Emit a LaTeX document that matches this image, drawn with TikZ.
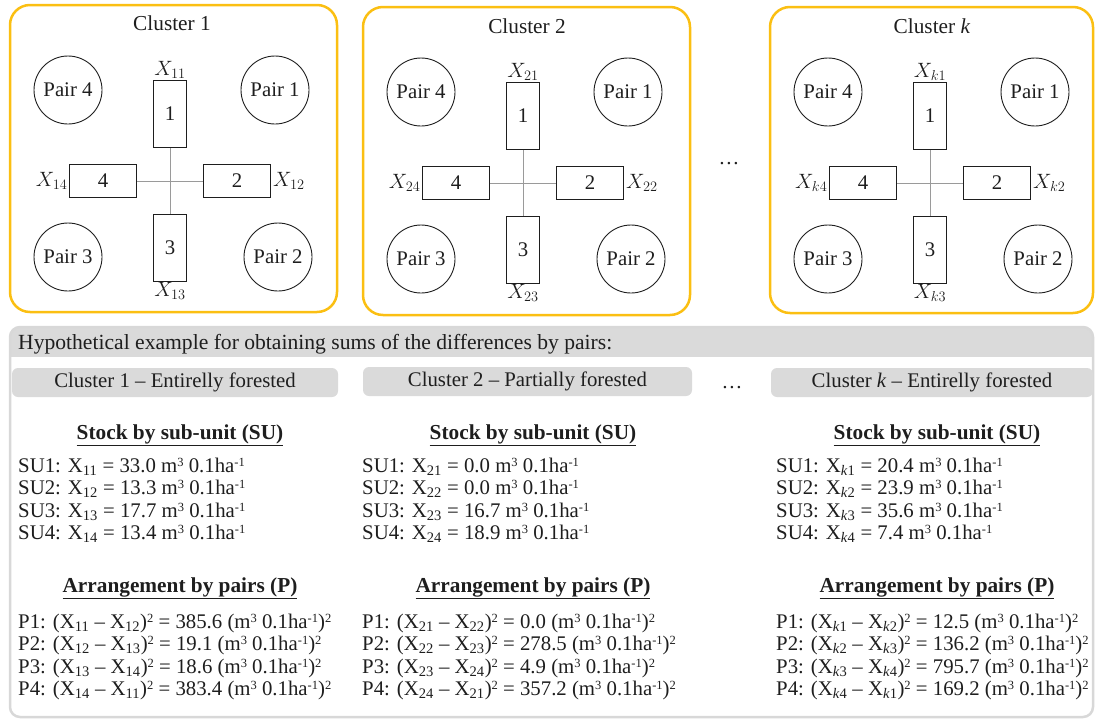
\documentclass[tikz,border=0pt]{standalone}
\usepackage{fontspec}
\setmainfont{Liberation Serif}
\definecolor{gold}{HTML}{FBBF12}
\definecolor{bargray}{HTML}{DADADA}
\definecolor{framegray}{HTML}{D8D8D8}
\definecolor{linegray}{HTML}{9A9A9A}
\definecolor{inkc}{HTML}{1E1E1E}
\newcommand\mysup[1]{\raisebox{5.8pt}{\fontsize{12.5pt}{12.5pt}\selectfont #1}}
\newcommand\myunit{m\mysup{3} 0.1ha\mysup{-1}}
\newcommand\myX[1]{X\textsubscript{#1}}
\newcommand\mykX[1]{X\textsubscript{\textit{k}#1}}
\tikzset{
  clusterframe/.style={draw=gold, line width=2.5pt, rounded corners=20pt},
  vbox/.style={draw=inkc, line width=0.9pt, minimum width=33pt, minimum height=67pt, inner sep=0pt},
  hbox/.style={draw=inkc, line width=0.9pt, minimum width=67pt, minimum height=33pt, inner sep=0pt},
  paircircle/.style={draw=inkc, line width=0.9pt, circle, minimum size=68pt, inner sep=0pt},
  crossline/.style={draw=linegray, line width=0.9pt},
  subbar/.style={fill=bargray, rounded corners=6pt, minimum height=29pt, inner sep=0pt},
  txt/.style={anchor=base west, inner sep=0pt},
  head/.style={anchor=base, inner sep=0pt, font=\fontsize{21.3pt}{22.5pt}\selectfont\bfseries},
  xlab/.style={font=\fontsize{21pt}{22pt}\selectfont},
}
% #1 prefix, #2 sub1, #3 sub2, #4 sub3, #5 sub4
\newcommand\mycross[5]{%
  \node[vbox] (#1u1) at (0,-67) {1};
  \node[hbox] (#1u2) at (67,0) {2};
  \node[vbox] (#1u3) at (0,67) {3};
  \node[hbox] (#1u4) at (-67,0) {4};
  \draw[crossline] (#1u1.south) -- (#1u3.north);
  \draw[crossline] (#1u4.east) -- (#1u2.west);
  \node[xlab, anchor=south, inner sep=1pt] (#1l1) at (#1u1.north) {#2};
  \node[xlab, anchor=west, inner sep=2pt] (#1l2) at (#1u2.east) {#3};
  \node[xlab, anchor=north, inner sep=0.5pt] (#1l3) at (#1u3.south) {#4};
  \node[xlab, anchor=east, inner sep=1.5pt] (#1l4) at (#1u4.west) {#5};
  \node[paircircle] (#1p4) at (-102,-91) {Pair 4};
  \node[paircircle] (#1p1) at (105,-91) {Pair 1};
  \node[paircircle] (#1p3) at (-102,76) {Pair 3};
  \node[paircircle] (#1p2) at (108,76) {Pair 2};
}
\begin{document}
\begin{tikzpicture}[x=1pt,y=-1pt, font=\fontsize{20.8pt}{22.5pt}\selectfont, text=inkc]
\useasboundingbox (0,0) rectangle (1095,720);
% ---------- clusters ----------
\draw[clusterframe] (10,5) rectangle (337,312);
\node[font=\fontsize{21.3pt}{22pt}\selectfont] (t1) at (172,23) {Cluster 1};
\begin{scope}[shift={(170,181)}]
  \mycross{a}{$X_{11}$}{$X_{12}$}{$X_{13}$}{$X_{14}$}
\end{scope}
\draw[clusterframe] (363,7) rectangle (690,315);
\node[font=\fontsize{21.3pt}{22pt}\selectfont] (t2) at (527,26) {Cluster 2};
\begin{scope}[shift={(523,183)}]
  \mycross{b}{$X_{21}$}{$X_{22}$}{$X_{23}$}{$X_{24}$}
\end{scope}
\node (dotstop) at (729,164) {…};
\draw[clusterframe] (770,7) rectangle (1093,313);
\node[font=\fontsize{21.3pt}{22pt}\selectfont] (tk) at (932,26) {Cluster \textit{k}};
\begin{scope}[shift={(930,183)}]
  \mycross{c}{$X_{k1}$}{$X_{k2}$}{$X_{k3}$}{$X_{k4}$}
\end{scope}
% ---------- lower panel ----------
\begin{scope}
  \clip[rounded corners=10pt] (10,327) rectangle (1093,717);
  \fill[bargray] (10,327) rectangle (1093,357);
\end{scope}
\draw[framegray, line width=2.5pt, rounded corners=10pt] (10,327) rectangle (1093,717);
\node[txt, font=\fontsize{21.6pt}{22.5pt}\selectfont] (hdr) at (18,349) {Hypothetical example for obtaining sums of the differences by pairs:};
\node[subbar, minimum width=326pt] (s1) at (175,382.5) {Cluster 1 – Entirelly forested};
\node[subbar, minimum width=329pt] (s2) at (527.5,381.5) {Cluster 2 – Partially forested};
\node (dotsbot) at (732,388) {…};
\node[subbar, minimum width=322pt] (s3) at (932,382.5) {Cluster \textit{k} – Entirelly forested};
% column 1
\node[head] (h1a) at (180,439) {\underline{Stock by sub-unit (SU)}};
\node[txt] (c1a) at (18,472) {SU1: \myX{11} = 33.0 \myunit};
\node[txt] (c1b) at (18,494.5) {SU2: \myX{12} = 13.3 \myunit};
\node[txt] (c1c) at (18,517) {SU3: \myX{13} = 17.7 \myunit};
\node[txt] (c1d) at (18,539.5) {SU4: \myX{14} = 13.4 \myunit};
\node[head] (h1b) at (180,592) {\underline{Arrangement by pairs (P)}};
\node[txt] (c1e) at (18,628) {P1: (\myX{11} – \myX{12})\mysup{2} = 385.6 (\myunit)\mysup{2}};
\node[txt] (c1f) at (18,650.5) {P2: (\myX{12} – \myX{13})\mysup{2} = 19.1 (\myunit)\mysup{2}};
\node[txt] (c1g) at (18,673) {P3: (\myX{13} – \myX{14})\mysup{2} = 18.6 (\myunit)\mysup{2}};
\node[txt] (c1h) at (18,695.5) {P4: (\myX{14} – \myX{11})\mysup{2} = 383.4 (\myunit)\mysup{2}};
% column 2
\node[head] (h2a) at (533,439) {\underline{Stock by sub-unit (SU)}};
\node[txt] (c2a) at (362,472) {SU1: \myX{21} = 0.0 \myunit};
\node[txt] (c2b) at (362,494.5) {SU2: \myX{22} = 0.0 \myunit};
\node[txt] (c2c) at (362,517) {SU3: \myX{23} = 16.7 \myunit};
\node[txt] (c2d) at (362,539.5) {SU4: \myX{24} = 18.9 \myunit};
\node[head] (h2b) at (533,592) {\underline{Arrangement by pairs (P)}};
\node[txt] (c2e) at (362,628) {P1: (\myX{21} – \myX{22})\mysup{2} = 0.0 (\myunit)\mysup{2}};
\node[txt] (c2f) at (362,650.5) {P2: (\myX{22} – \myX{23})\mysup{2} = 278.5 (\myunit)\mysup{2}};
\node[txt] (c2g) at (362,673) {P3: (\myX{23} – \myX{24})\mysup{2} = 4.9 (\myunit)\mysup{2}};
\node[txt] (c2h) at (362,695.5) {P4: (\myX{24} – \myX{21})\mysup{2} = 357.2 (\myunit)\mysup{2}};
% column k
\node[head] (h3a) at (937,439) {\underline{Stock by sub-unit (SU)}};
\node[txt] (c3a) at (776,472) {SU1: \mykX{1} = 20.4 \myunit};
\node[txt] (c3b) at (776,494.5) {SU2: \mykX{2} = 23.9 \myunit};
\node[txt] (c3c) at (776,517) {SU3: \mykX{3} = 35.6 \myunit};
\node[txt] (c3d) at (776,539.5) {SU4: \mykX{4} = 7.4 \myunit};
\node[head] (h3b) at (937,592) {\underline{Arrangement by pairs (P)}};
\node[txt] (c3e) at (776,628) {P1: (\mykX{1} – \mykX{2})\mysup{2} = 12.5 (\myunit)\mysup{2}};
\node[txt] (c3f) at (776,650.5) {P2: (\mykX{2} – \mykX{3})\mysup{2} = 136.2 (\myunit)\mysup{2}};
\node[txt] (c3g) at (776,673) {P3: (\mykX{3} – \mykX{4})\mysup{2} = 795.7 (\myunit)\mysup{2}};
\node[txt] (c3h) at (776,695.5) {P4: (\mykX{4} – \mykX{1})\mysup{2} = 169.2 (\myunit)\mysup{2}};
\end{tikzpicture}
\end{document}
